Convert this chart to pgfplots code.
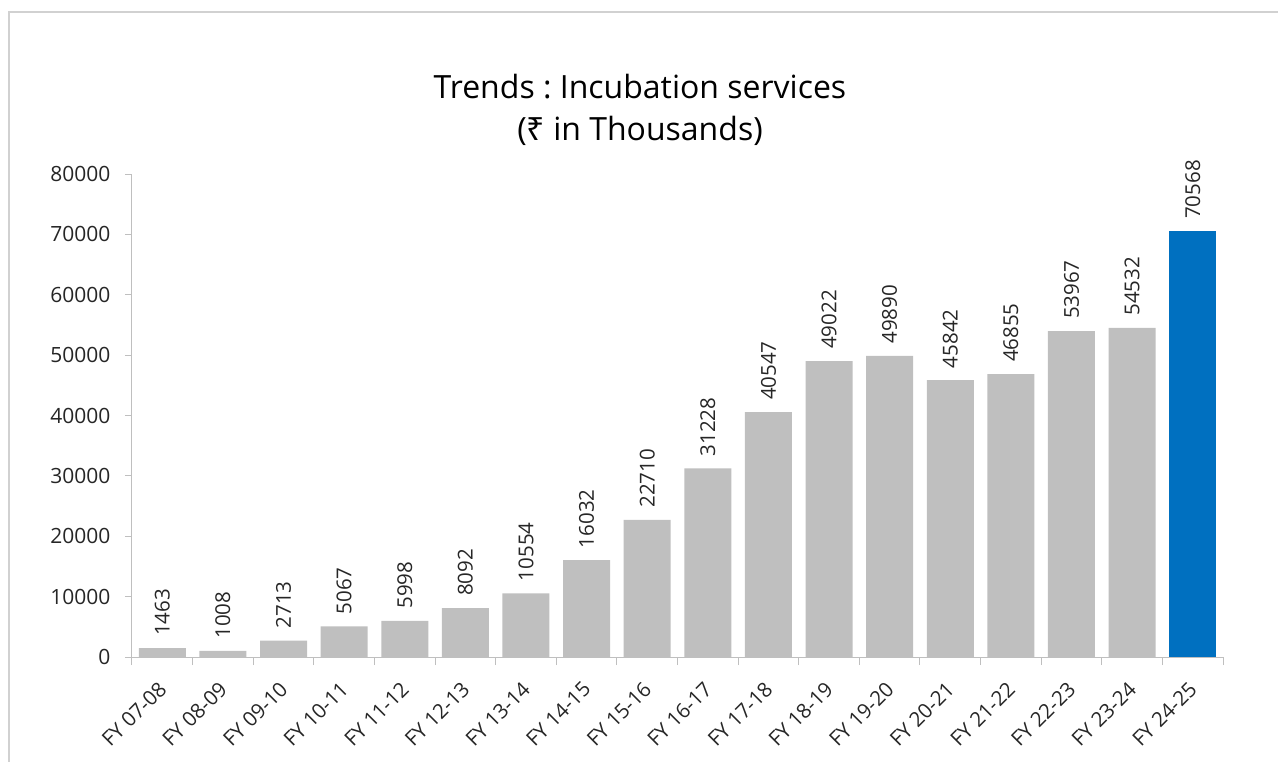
\documentclass[border=0pt]{standalone}
\usepackage{pgfplots}
\pgfplotsset{compat=1.18}
\usepackage{fontspec}
\setmainfont{Open Sans}
\newfontfamily\rupeefont{Noto Sans}
\frenchspacing
\definecolor{bargray}{HTML}{BFBFBF}
\definecolor{barblue}{HTML}{0070C0}
\definecolor{axgray}{HTML}{BFBFBF}
\definecolor{txt}{HTML}{262626}
\begin{document}
\begin{tikzpicture}
\useasboundingbox (-132pt,-104pt) rectangle (1146pt,657pt);
\draw[color=black!18, line width=1.5pt] (-123pt,-120pt) -- (-123pt,645pt) -- (1160pt,645pt);
\begin{axis}[
  at={(0pt,0pt)}, anchor=south west,
  scale only axis, width=1091pt, height=483pt,
  xmin=-0.5, xmax=17.5, ymin=0, ymax=80000,
  axis x line*=bottom, axis y line*=left,
  axis line style={axgray, line width=1pt},
  xtick={0,...,17},
  xticklabels={FY 07-08,FY 08-09,FY 09-10,FY 10-11,FY 11-12,FY 12-13,FY 13-14,FY 14-15,FY 15-16,FY 16-17,FY 17-18,FY 18-19,FY 19-20,FY 20-21,FY 21-22,FY 22-23,FY 23-24,FY 24-25},
  major x tick style={draw=none},
  minor xtick={-0.5,0.5,...,17.5},
  minor tick length=8pt,
  minor x tick style={axgray, line width=1pt},
  ytick={0,10000,...,80000},
  major tick length=7pt,
  major y tick style={axgray, line width=1pt},
  tick align=outside,
  scaled y ticks=false,
  /pgf/number format/assume math mode=true,
  yticklabel={\pgfmathprintnumber[fixed, 1000 sep={}]{\tick}},
  y tick label style={font=\fontsize{21}{25}\selectfont, text=txt, xshift=-11pt},
  x tick label style={font=\fontsize{20.5}{24}\selectfont, text=txt, anchor=north east, inner sep=0pt, xshift=-5pt, yshift=-16pt, rotate=45},
  nodes near coords,
  nodes near coords style={font=\fontsize{20.5}{24}\selectfont, text=txt, rotate=90, anchor=west, inner sep=0pt, xshift=12pt},
  point meta=explicit symbolic,
  clip=false,
]
\addplot[ybar, bar width=47pt, bar shift=0pt, fill=bargray, draw=none] coordinates {
(0,1463) [1463] (1,1008) [1008] (2,2713) [2713] (3,5067) [5067] (4,5998) [5998] (5,8092) [8092]
(6,10554) [10554] (7,16032) [16032] (8,22710) [22710] (9,31228) [31228] (10,40547) [40547]
(11,49022) [49022] (12,49890) [49890] (13,45842) [45842] (14,46855) [46855] (15,53967) [53967]
(16,54532) [54532]};
\addplot[ybar, bar width=47pt, bar shift=0pt, fill=barblue, draw=none] coordinates {(17,70568) [70568]};
\end{axis}
\node[font=\fontsize{32}{38}\selectfont, text=black] at (508pt,570pt) {Trends : Incubation services};
\node[font=\fontsize{32}{38}\selectfont, text=black] at (508pt,526pt) {({\rupeefont ₹} in Thousands)};
\end{tikzpicture}
\end{document}
